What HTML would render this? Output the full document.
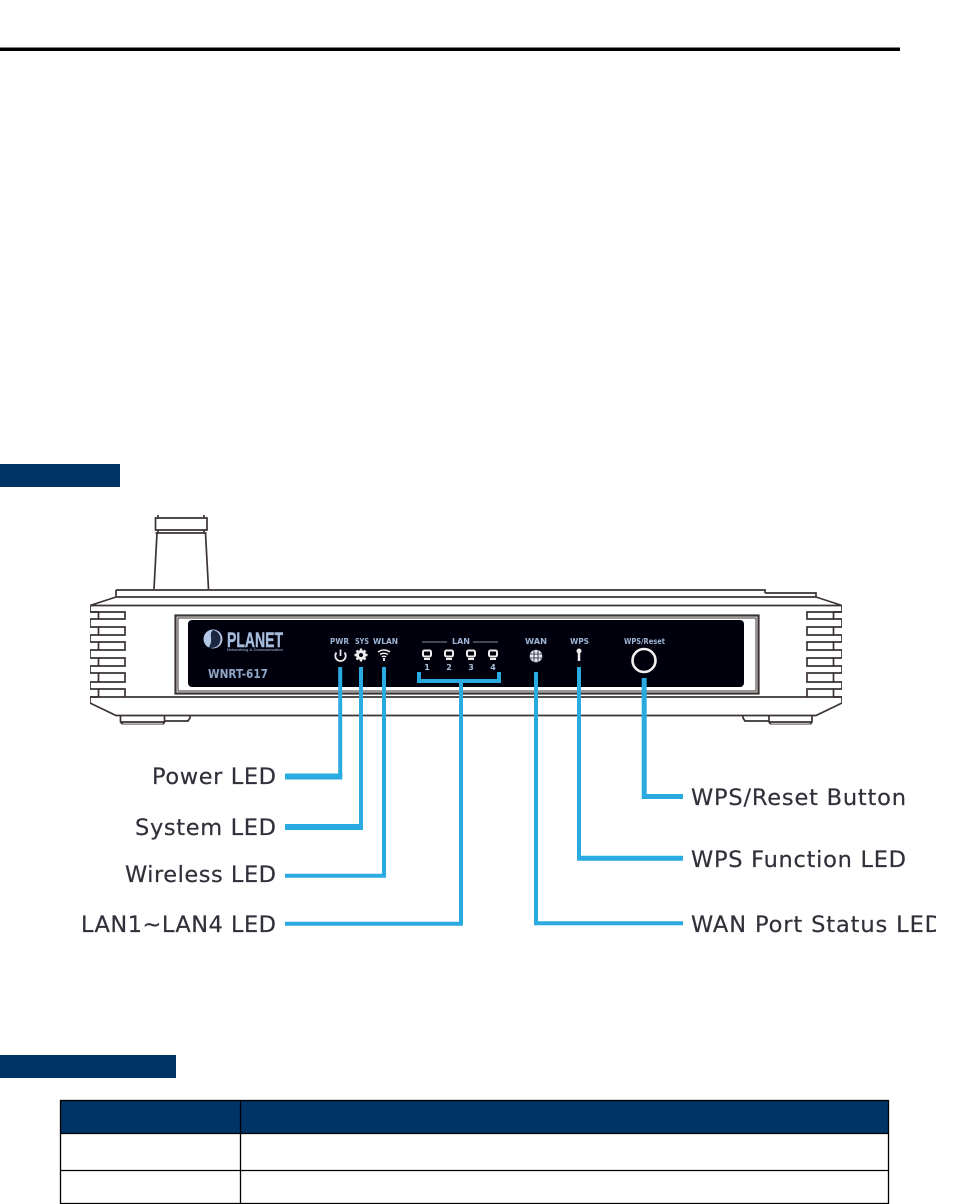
<!DOCTYPE html>
<html><head><meta charset="utf-8"><style>
html,body{margin:0;padding:0;background:#fff}
svg{display:block}
.l{font-family:"DejaVu Sans",sans-serif;font-size:22.5px;fill:#30303a;stroke:#30303a;stroke-width:.2}
.s{font-family:"DejaVu Sans",sans-serif;font-weight:bold;font-size:7.5px;fill:#9db4d2}
.n{font-family:"DejaVu Sans",sans-serif;font-weight:bold;font-size:8px;fill:#a9bfd8;text-anchor:middle}
.d{fill:none;stroke:#3a3330;stroke-width:1.7}
.b{fill:none;stroke:#29abe2}
.i{fill:none;stroke:#e8e8e8}
</style></head><body>
<svg width="963" height="1204" viewBox="0 0 963 1204" xmlns="http://www.w3.org/2000/svg">
<defs><clipPath id="c"><rect x="0" y="0" width="936" height="1204"/></clipPath>
<filter id="f" x="0" y="0" width="100%" height="100%"><feGaussianBlur stdDeviation="0.35"/></filter></defs>
<rect width="963" height="1204" fill="#fff"/>
<rect x="0" y="47.5" width="900" height="3.5" fill="#000"/>
<rect x="0" y="464" width="120" height="23" fill="#003366"/>
<rect x="0" y="1055" width="176" height="23" fill="#003366"/>

<!-- table -->
<rect x="60" y="1100" width="828" height="33" fill="#003366"/>
<g fill="none" stroke="#000" stroke-width="1.3">
<rect x="60.5" y="1100.5" width="828" height="103"/>
<path d="M60 1133.5H889M60 1170.5H889M240.5 1100V1204"/>
</g>

<g filter="url(#f)">
<!-- antenna -->
<g class="d">
<path d="M155.5 518H207V530H155.500Z"/>
<path d="M158 515V518M204 515V518M158 530V533M204 530V533M155.5 533H206.5"/>
<path d="M154 589L157 533M208.5 589L205.5 533"/>
</g>
<!-- body -->
<g class="d">
<path d="M116 590H765V593M116 597V590M116 597H816V593H765M116 597L90 605.5H842L816 597"/>
<path d="M90 605.500V612H98.500V619H90V627H98.500V635H90V642H98.500V650H90V658H98.500V666H90V673H98.500V682H90V689H98.500V697H90V703L116 715.500H816L842 703V697H833.500V689H842V682H833.500V673H842V666H833.500V658H842V650H833.500V642H842V635H833.500V627H842V619H833.500V612H842V605.500"/>
<path d="M90 612H125V619H98.500M98.500 627H125V635H98.500M98.500 642H125V650H98.500M98.500 658H125V666H98.500M98.500 673H125V682H98.500M98.500 689H125V697"/>
<path d="M842 612H807V619H833.500M833.500 627H807V635H833.500M833.500 642H807V650H833.500M833.500 658H807V666H833.500M833.500 673H807V682H833.500M833.500 689H807V697"/>
<path d="M90 697H842"/>
<rect x="175.500" y="615.500" width="583" height="78" stroke-width="2.200"/>
<rect x="178" y="618" width="578" height="73" stroke-width="1"/>
<path d="M120.500 716V722L123 724.500H163L164.500 722V716M164.500 721H188L190 718V716M120.500 722H164.500"/>
<path d="M812 716V722L810 724.500H771L769 722V716M769 721H745L743 718V716M769 722H812"/>
</g>
<!-- panel -->
<rect x="188" y="620" width="556" height="67" rx="4" fill="#00000f"/>

<!-- logo -->
<circle cx="213" cy="639" r="9.500" fill="#b4c8e6"/>
<path d="M213 630C208 634 214 639 209 647C205 648 218 650 220 642C222 636 218 631 213 630Z" fill="#1c2540"/>
<text x="227" y="647" font-family="Liberation Sans,sans-serif" font-weight="bold" font-size="21" fill="#a5bcdc" stroke="#a5bcdc" stroke-width=".4" textLength="56" lengthAdjust="spacingAndGlyphs">PLANET</text>
<text x="227" y="651" font-family="Liberation Sans,sans-serif" font-weight="bold" font-size="4" fill="#7f94b4" textLength="56" lengthAdjust="spacingAndGlyphs">Networking &amp; Communication</text>
<text x="208" y="678" font-family="DejaVu Sans,sans-serif" font-weight="bold" font-size="12" fill="#8fa5c4" textLength="60" lengthAdjust="spacingAndGlyphs">WNRT-617</text>

<!-- small labels -->
<text class="s" x="330" y="644" textLength="19" lengthAdjust="spacingAndGlyphs">PWR</text>
<text class="s" x="355" y="644" textLength="14" lengthAdjust="spacingAndGlyphs">SYS</text>
<text class="s" x="373" y="644" textLength="25" lengthAdjust="spacingAndGlyphs">WLAN</text>
<text class="s" x="452" y="644" textLength="18" lengthAdjust="spacingAndGlyphs">LAN</text>
<text class="s" x="525" y="644" textLength="22" lengthAdjust="spacingAndGlyphs">WAN</text>
<text class="s" x="570" y="644" textLength="19" lengthAdjust="spacingAndGlyphs">WPS</text>
<text class="s" x="624" y="644" textLength="41" lengthAdjust="spacingAndGlyphs">WPS/Reset</text>
<path d="M422 642H447M473 642H498" stroke="#8a8f9c" stroke-width="0.900"/>

<!-- icons -->
<path class="i" stroke-width="1.800" d="M336.500 652.500A5.200 5.200 0 1 0 344.500 652.500M340.500 649.500V656"/>
<circle cx="361" cy="655" r="3.500" fill="none" stroke="#eee" stroke-width="3"/>
<path stroke="#eee" stroke-width="2.400" d="M361 648.500V651M361 659V661.500M354.500 655H357M365 655H367.500M356.500 650.500L358 652M364 658L365.500 659.500M356.500 659.500L358 658M364 652L365.500 650.500"/>
<path class="i" stroke-width="1.500" d="M378 652Q384 648 390 652M380 654.500Q384 652 388 654.500M382 657Q384 655.500 386 657"/>
<path d="M384 658V661" stroke="#ddd" stroke-width="2"/>
<g fill="none" stroke="#eee" stroke-width="2">
<rect x="423" y="650.500" width="8" height="6" rx="1.500"/>
<rect x="445" y="650.500" width="8" height="6" rx="1.500"/>
<rect x="467" y="650.500" width="8" height="6" rx="1.500"/>
<rect x="489" y="650.500" width="8" height="6" rx="1.500"/>
<path d="M424 659H430M446 659H452M468 659H474M490 659H496"/>
</g>
<text class="n" x="427" y="670">1</text><text class="n" x="449" y="670">2</text><text class="n" x="471" y="670">3</text><text class="n" x="493" y="670">4</text>
<circle cx="536" cy="656" r="6.300" fill="#e6e6e6"/>
<path d="M530 654H542M530 658H542M534 650V662M538 650V662" stroke="#222a40" stroke-width="0.800"/>
<circle cx="579" cy="651" r="2.500" fill="#eee"/>
<path d="M579 652V661" stroke="#eee" stroke-width="2.500"/>
<circle cx="644" cy="660.500" r="11.500" fill="none" stroke="#f0f0f0" stroke-width="2.600"/>
</g>

<!-- connectors -->
<g class="b">
<path stroke-width="4" d="M340.200 667V776.500"/><path stroke-width="6" d="M285 776.500H342.200"/>
<path stroke-width="4" d="M361 667V827"/><path stroke-width="6" d="M285 827H363"/>
<path stroke-width="4" d="M384 667V875.700H285"/>
<path stroke-width="4" d="M419 672V681H499V672"/>
<path stroke-width="4" d="M461 681V923.700H285"/>
<path stroke-width="4" d="M536 672V923.300H683"/>
<path stroke-width="4" d="M579 667V858"/><path stroke-width="5" d="M577 858.300H683"/>
<path stroke-width="5" d="M644.200 678V796.500H683"/>
</g>

<!-- callout labels -->
<text class="l" x="152" y="784" textLength="124">Power LED</text>
<text class="l" x="135" y="835" textLength="141">System LED</text>
<text class="l" x="125" y="882" textLength="151">Wireless LED</text>
<text class="l" x="81" y="932" textLength="195">LAN1~LAN4 LED</text>
<text class="l" x="691" y="805" textLength="215">WPS/Reset Button</text>
<text class="l" x="691" y="867" textLength="215">WPS Function LED</text>
<g clip-path="url(#c)"><text class="l" x="691" y="932" textLength="251">WAN Port Status LED</text></g>
</svg>
</body></html>
